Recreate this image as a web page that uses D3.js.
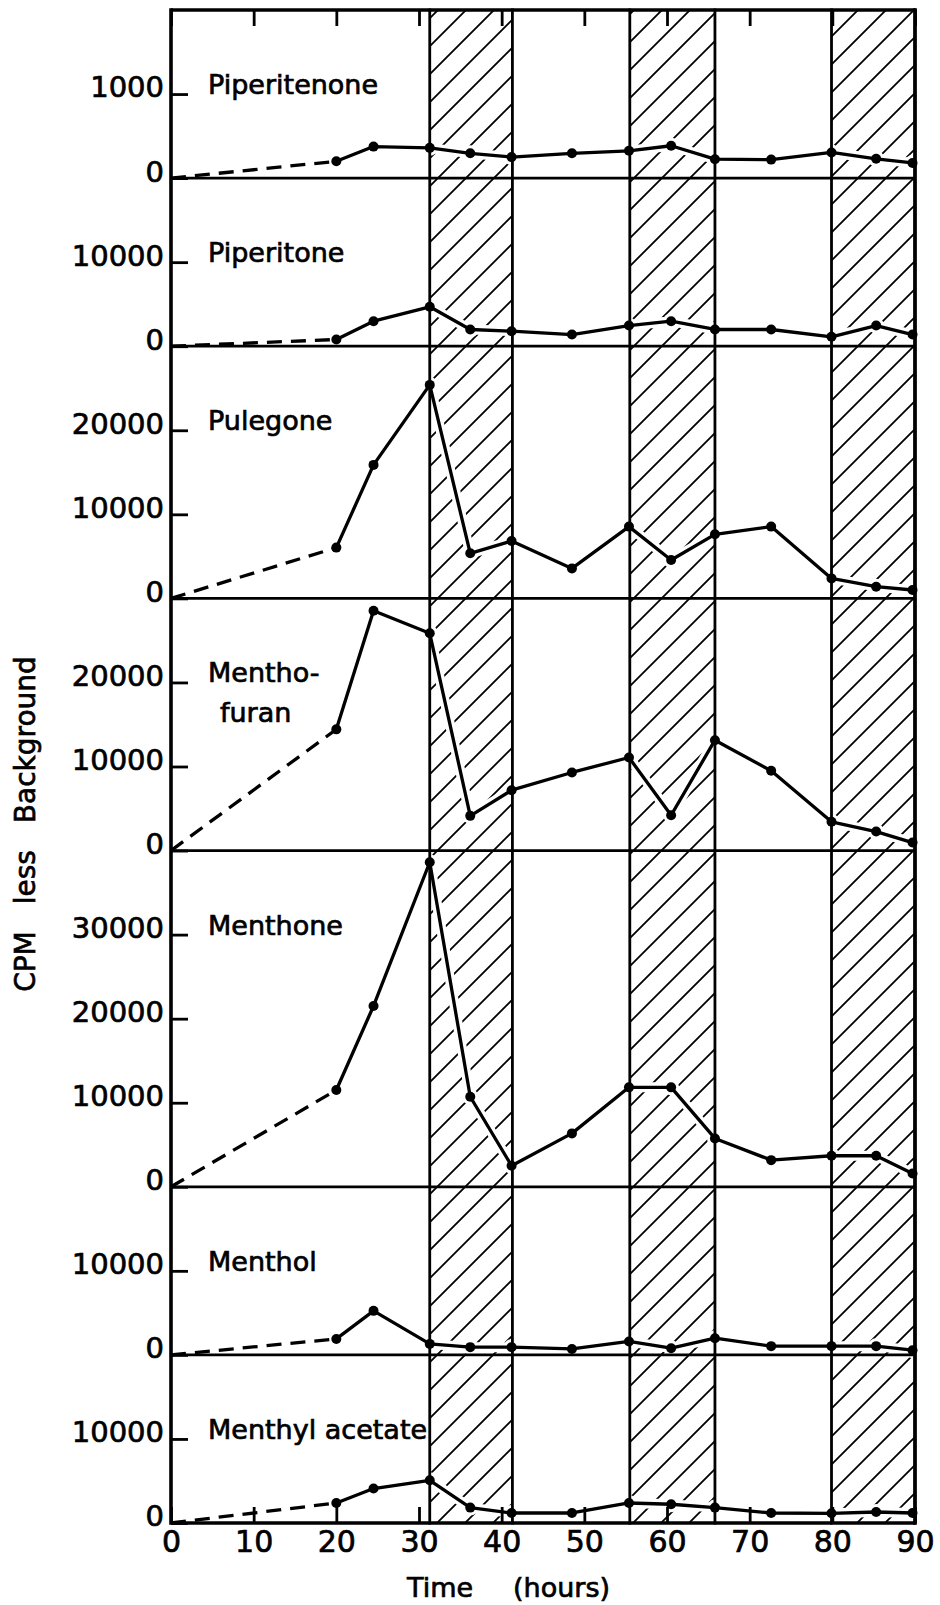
<!DOCTYPE html>
<html>
<head>
<meta charset="utf-8">
<script src="https://cdn.jsdelivr.net/npm/d3@7"></script>
<style>
  body { margin: 0; background: #fff; }
  text { font-family: "DejaVu Sans", sans-serif; fill: #000; stroke: #000; stroke-width: 0.7px; }
</style>
</head>
<body>
<script>
// sampling times (hours)
const times = [0, 20, 24.5, 31.3, 36.2, 41.2, 48.5, 55.4, 60.5, 65.8, 72.6, 79.9, 85.3, 89.7];

const compounds = ["Piperitenone", "Piperitone", "Pulegone", "Mentho-\nfuran",
                   "Menthone", "Menthol", "Menthyl acetate"];

// CPM less background, one value per sampling time
const piperitenone   = [0, 200, 375, 360, 295, 250, 295, 325, 385, 225, 220, 305, 230, 180];
const piperitone     = [0, 800, 2980, 4690, 1990, 1790, 1390, 2460, 2980, 1990, 1990, 1120, 2460, 1390];
const pulegone       = [0, 6040, 15880, 25400, 5360, 6830, 3570, 8540, 4570, 7620, 8540, 2380, 1390, 1000];
const menthofuran    = [0, 14420, 28540, 25850, 4130, 7180, 9290, 11070, 4200, 13130, 9490, 3420, 2260, 950];
const menthone       = [0, 11510, 21510, 38610, 10710, 2500, 6350, 11830, 11830, 5750, 3170, 3690, 3690, 1590];
const menthol        = [0, 1900, 5240, 1310, 920, 920, 710, 1600, 800, 1990, 1040, 1040, 1040, 560];
const menthylAcetate = [0, 2380, 4100, 5080, 1830, 1190, 1190, 2380, 2230, 1830, 1190, 1150, 1310, 1190];

const series = [piperitenone, piperitone, pulegone, menthofuran, menthone, menthol, menthylAcetate];

// top of each panel's y range and its labelled ticks
const panelMax   = [2000, 20000, 30000, 30000, 40000, 20000, 20000];
const panelTicks = [[1000], [10000], [10000, 20000], [10000, 20000],
                    [10000, 20000, 30000], [10000], [10000]];

// dark periods (hatched), hours
const darkPeriods = [[31.3, 41.3], [55.5, 65.8], [79.9, 90]];

const xTicks = [0, 10, 20, 30, 40, 50, 60, 70, 80, 90];

// layout
const W = 940, H = 1605;
const plotLeft = 171, plotRight = 915, plotTop = 10, plotBottom = 1523;

const svg = d3.select("body").append("svg")
    .attr("width", W)
    .attr("height", H);

svg.append("rect").attr("width", W).attr("height", H).attr("fill", "#fff");

const x = d3.scaleLinear().domain([0, 90]).range([plotLeft, plotRight]);

// every panel uses the same px per tick step
const spans = panelMax.map((m, i) => m / panelTicks[i][0]);
const stepPx = (plotBottom - plotTop) / d3.sum(spans);
let yStart = plotTop;
const panels = compounds.map((name, i) => {
    const h = spans[i] * stepPx;
    const p = {
        name: name,
        ticks: panelTicks[i],
        pts: times.map((t, j) => [t, series[i][j]]),
        y: d3.scaleLinear().domain([0, panelMax[i]]).range([yStart + h, yStart])
    };
    yStart += h;
    return p;
});

// hatch pattern for dark periods
const pat = svg.append("defs").append("pattern")
    .attr("id", "hatch")
    .attr("patternUnits", "userSpaceOnUse")
    .attr("width", 28)
    .attr("height", 28);
pat.append("path")
    .attr("d", "M-7,7 L7,-7 M0,28 L28,0 M21,35 L35,21")
    .attr("stroke", "#000")
    .attr("stroke-width", 1.8);

svg.selectAll("rect.dark")
    .data(darkPeriods)
    .join("rect")
    .attr("class", "dark")
    .attr("x", d => x(d[0]))
    .attr("width", d => x(d[1]) - x(d[0]))
    .attr("y", plotTop)
    .attr("height", plotBottom - plotTop)
    .attr("fill", "url(#hatch)");

// white halo so the hatching breaks around the curves
panels.forEach(p => {
    const line = d3.line().x(d => x(d[0])).y(d => p.y(d[1]));
    svg.append("path")
        .attr("d", line(p.pts.slice(1)))
        .attr("fill", "none")
        .attr("stroke", "#fff")
        .attr("stroke-width", 10)
        .attr("stroke-linejoin", "round");
    svg.selectAll(null)
        .data(p.pts.slice(1))
        .join("circle")
        .attr("cx", d => x(d[0]))
        .attr("cy", d => p.y(d[1]))
        .attr("r", 8)
        .attr("fill", "#fff");
});

// frame: top line, panel zero lines, side axes, dark period boundaries
const hLines = [plotTop].concat(panels.map(p => p.y(0)));
svg.selectAll("line.h")
    .data(hLines)
    .join("line")
    .attr("class", "h")
    .attr("x1", plotLeft).attr("x2", plotRight)
    .attr("y1", d => d).attr("y2", d => d)
    .attr("stroke", "#000")
    .attr("stroke-width", (d, i) => i == 0 || i == hLines.length - 1 ? 3.4 : 2.8);

const vLines = [0, 90].concat(darkPeriods.flat());
svg.selectAll("line.v")
    .data(vLines)
    .join("line")
    .attr("class", "v")
    .attr("x1", d => x(d)).attr("x2", d => x(d))
    .attr("y1", plotTop).attr("y2", plotBottom)
    .attr("stroke", "#000")
    .attr("stroke-width", (d, i) => i < 2 ? 3.6 : 2.8)
    .attr("stroke-linecap", "square");

// y axes, ticks pointing inward
panels.forEach(p => {
    const g = svg.append("g")
        .attr("transform", "translate(" + plotLeft + ",0)")
        .call(d3.axisLeft(p.y)
            .tickValues([0].concat(p.ticks))
            .tickSize(-17)
            .tickPadding(7)
            .tickFormat(d3.format("d")));
    g.select(".domain").remove();
    g.selectAll(".tick line").attr("stroke", "#000").attr("stroke-width", 2.8);
    g.selectAll(".tick text")
        .attr("dy", "0.1em")
        .style("font-size", "29px")
        .style("font-family", "'DejaVu Sans', sans-serif");
});

// x axis at the bottom, and matching inward ticks on the top edge
const xb = svg.append("g")
    .attr("transform", "translate(0," + plotBottom + ")")
    .call(d3.axisBottom(x).tickValues(xTicks).tickSize(-16).tickPadding(8));
xb.select(".domain").remove();
xb.selectAll(".tick line").attr("stroke", "#000").attr("stroke-width", 2.8);
xb.selectAll(".tick text")
    .style("font-size", "30px")
    .style("font-family", "'DejaVu Sans', sans-serif");

const xt = svg.append("g")
    .attr("transform", "translate(0," + plotTop + ")")
    .call(d3.axisTop(x).tickValues(xTicks).tickSize(-16).tickFormat(() => ""));
xt.select(".domain").remove();
xt.selectAll(".tick line").attr("stroke", "#000").attr("stroke-width", 2.8);

// data: dashed from time 0 to the first sample, solid afterwards
panels.forEach(p => {
    const line = d3.line().x(d => x(d[0])).y(d => p.y(d[1]));
    svg.append("path")
        .attr("d", line(p.pts.slice(0, 2)))
        .attr("fill", "none")
        .attr("stroke", "#000")
        .attr("stroke-width", 3.3)
        .attr("stroke-dasharray", "15,9");
    svg.append("path")
        .attr("d", line(p.pts.slice(1)))
        .attr("fill", "none")
        .attr("stroke", "#000")
        .attr("stroke-width", 3.3)
        .attr("stroke-linejoin", "round");
    svg.selectAll(null)
        .data(p.pts.slice(1))
        .join("circle")
        .attr("cx", d => x(d[0]))
        .attr("cy", d => p.y(d[1]))
        .attr("r", 5)
        .attr("fill", "#000");

    // compound name, baseline on the highest labelled tick
    const t = svg.append("text")
        .attr("x", plotLeft + 37)
        .attr("y", p.y(d3.max(p.ticks)))
        .style("font-size", "27px");
    p.name.split("\n").forEach((s, k) => {
        t.append("tspan")
            .attr("x", plotLeft + 37 + (k ? 12 : 0))
            .attr("dy", k ? 40 : 0)
            .text(s);
    });
});

// axis titles
const xTitle = svg.append("text")
    .attr("x", 407)
    .attr("y", 1597)
    .style("font-size", "27px");
xTitle.append("tspan").text("Time");
xTitle.append("tspan").attr("x", 513).text("(hours)");

svg.append("text")
    .attr("transform", "translate(35,824) rotate(-90)")
    .attr("text-anchor", "middle")
    .style("font-size", "28px")
    .style("word-spacing", "18px")
    .text("CPM less Background");
</script>
</body>
</html>
